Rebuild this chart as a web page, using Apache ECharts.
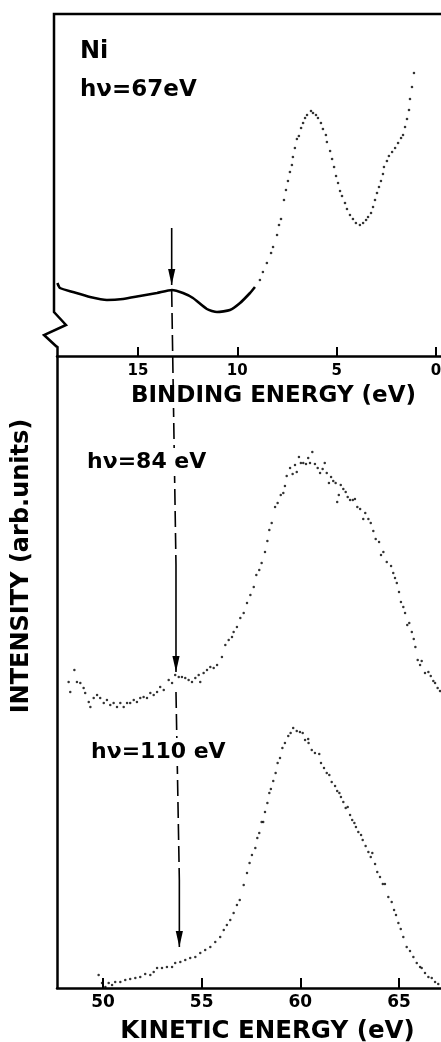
<!DOCTYPE html>
<html>
<head>
<meta charset="utf-8">
<script src="https://cdn.jsdelivr.net/npm/echarts@6/dist/echarts.min.js"></script>
<style>
  html, body { margin: 0; padding: 0; background: #fff; }
  #chart { width: 441px; height: 1042px; }
</style>
</head>
<body>
<div id="chart"></div>
<script>
// Ni photoemission spectra at three photon energies.
const BE_TICKS = [0, 5, 10, 15];          // binding energy (eV), top panel
const KE_TICKS = [50, 55, 60, 65];        // kinetic energy (eV), lower panel

// hv = 67 eV, [binding energy, intensity]; densely sampled low-intensity part
const dense67 = [
  [19.05, 73], [18.92, 68], [18.27, 64], [17.41, 59], [16.56, 56], [15.75, 57],
  [14.90, 60], [14.04, 63], [13.29, 66], [12.73, 63], [12.23, 58], [11.53, 47],
  [11.02, 44], [10.37, 46], [9.86, 53], [9.36, 63], [9.11, 69]
];
// hv = 67 eV, individual points of the valence band region
const dots67 = [
  [8.86, 76], [8.71, 84], [8.51, 93], [8.30, 103], [8.20, 109], [8.00, 121], [7.90, 131],
  [7.80, 137], [7.65, 156], [7.55, 166], [7.45, 175], [7.35, 184], [7.25, 191], [7.20, 199],
  [7.10, 208], [7.00, 217], [6.90, 220], [6.79, 228], [6.69, 233], [6.59, 238], [6.49, 241],
  [6.29, 245], [6.19, 243], [6.04, 241], [5.94, 238], [5.79, 233], [5.69, 227], [5.54, 221],
  [5.49, 214], [5.33, 205], [5.23, 197], [5.13, 189], [5.03, 180], [4.93, 173], [4.83, 165],
  [4.73, 160], [4.58, 153], [4.48, 147], [4.33, 141], [4.18, 137], [4.03, 133], [3.83, 131],
  [3.67, 133], [3.52, 136], [3.42, 139], [3.27, 143], [3.17, 149], [3.07, 156], [2.97, 163],
  [2.87, 169], [2.77, 175], [2.67, 182], [2.62, 189], [2.47, 195], [2.37, 200], [2.21, 204],
  [2.06, 208], [1.91, 213], [1.76, 218], [1.66, 221], [1.56, 229], [1.46, 237], [1.36, 246],
  [1.31, 257], [1.21, 269], [1.11, 283]
];
// hv = 84 eV, [kinetic energy, intensity]
const dots84 = [
  [48.26, 306], [48.34, 296], [48.55, 318], [48.68, 306], [48.85, 305], [49.02, 300],
  [49.10, 295], [49.28, 286], [49.36, 281], [49.53, 290], [49.70, 293], [49.86, 290],
  [50.04, 285], [50.20, 288], [50.37, 283], [50.54, 285], [50.71, 281], [50.88, 285],
  [51.05, 281], [51.22, 285], [51.38, 285], [51.56, 288], [51.72, 286], [51.89, 290],
  [52.06, 291], [52.23, 290], [52.40, 295], [52.57, 293], [52.74, 296], [52.90, 301],
  [53.08, 298], [53.33, 308], [53.50, 305], [53.66, 313], [53.84, 311], [54.00, 311],
  [54.17, 310], [54.34, 308], [54.51, 306], [54.68, 310], [54.85, 313], [54.93, 306],
  [55.10, 315], [55.27, 318], [55.44, 321], [55.61, 320], [55.78, 323], [56.03, 331],
  [56.20, 343], [56.37, 348], [56.54, 351], [56.62, 356], [56.79, 361], [56.96, 370],
  [57.13, 375], [57.30, 385], [57.47, 393], [57.64, 401], [57.77, 413], [57.92, 418],
  [58.04, 425], [58.21, 436], [58.33, 447], [58.43, 458], [58.55, 465], [58.72, 481],
  [58.85, 485], [59.01, 493], [59.14, 495], [59.22, 502], [59.31, 512], [59.48, 520],
  [59.61, 514], [59.73, 523], [59.82, 516], [59.93, 531], [60.03, 525], [60.15, 525],
  [60.29, 524], [60.40, 530], [60.49, 525], [60.61, 536], [60.74, 524], [60.88, 520],
  [61.00, 515], [61.13, 519], [61.24, 525], [61.34, 515], [61.45, 505], [61.56, 511],
  [61.67, 507], [61.79, 505], [61.87, 486], [61.95, 493], [62.05, 503], [62.18, 499],
  [62.30, 496], [62.40, 491], [62.52, 488], [62.66, 488], [62.77, 489], [62.89, 481],
  [63.03, 479], [63.19, 469], [63.29, 475], [63.45, 469], [63.57, 465], [63.70, 457],
  [63.82, 449], [63.99, 446], [64.09, 433], [64.21, 436], [64.38, 426], [64.60, 422],
  [64.71, 415], [64.80, 410], [64.89, 405], [65.00, 396], [65.10, 386], [65.22, 381],
  [65.31, 375], [65.42, 363], [65.52, 365], [65.65, 356], [65.75, 349], [65.83, 341],
  [65.95, 328], [66.07, 323], [66.15, 327], [66.32, 315], [66.49, 316], [66.61, 312],
  [66.74, 307], [66.83, 305], [66.96, 300], [67.08, 297]
];
// hv = 110 eV, [kinetic energy, intensity]
const dots110 = [
  [49.78, 13], [49.95, 5], [50.12, 1], [50.29, 5], [50.46, 3], [50.62, 6], [50.88, 6],
  [51.13, 8], [51.38, 9], [51.64, 10], [51.89, 11], [52.14, 14], [52.40, 13], [52.57, 16],
  [52.74, 20], [52.99, 20], [53.24, 21], [53.50, 21], [53.66, 25], [53.92, 26], [54.17, 28],
  [54.42, 30], [54.68, 31], [54.93, 35], [55.18, 38], [55.44, 41], [55.69, 46], [55.94, 51],
  [56.12, 58], [56.28, 63], [56.45, 68], [56.62, 75], [56.79, 83], [56.93, 88], [57.13, 103],
  [57.30, 115], [57.43, 125], [57.55, 133], [57.72, 140], [57.82, 150], [57.92, 155],
  [58.04, 166], [58.12, 166], [58.21, 176], [58.33, 185], [58.43, 195], [58.51, 199],
  [58.63, 207], [58.75, 215], [58.85, 225], [58.97, 230], [59.09, 240], [59.22, 245],
  [59.39, 252], [59.51, 255], [59.64, 260], [59.82, 257], [59.98, 256], [60.12, 255],
  [60.24, 248], [60.40, 249], [60.42, 245], [60.58, 238], [60.74, 235], [60.96, 234],
  [61.05, 225], [61.20, 220], [61.34, 215], [61.47, 213], [61.59, 206], [61.76, 202],
  [61.87, 197], [61.98, 195], [62.06, 191], [62.18, 186], [62.30, 180], [62.40, 181],
  [62.52, 173], [62.63, 168], [62.74, 165], [62.82, 161], [62.94, 156], [63.08, 153],
  [63.16, 148], [63.31, 142], [63.45, 136], [63.57, 131], [63.65, 135], [63.79, 124],
  [63.90, 116], [64.04, 111], [64.18, 104], [64.29, 104], [64.46, 91], [64.63, 86],
  [64.75, 78], [64.85, 73], [64.97, 65], [65.09, 59], [65.22, 51], [65.39, 41], [65.56, 37],
  [65.73, 31], [65.90, 25], [66.07, 21], [66.15, 20], [66.32, 15], [66.49, 11], [66.66, 10],
  [66.83, 6], [66.99, 4]
];

// Energies marked by the arrows
const ARROW_BE_67 = 13.3;
const ARROW_KE_84 = 53.70;
const ARROW_KE_110 = 53.87;

const FONT = '"DejaVu Sans", "Liberation Sans", sans-serif';
const INK = '#000';

const chart = echarts.init(document.getElementById('chart'), null, { renderer: 'canvas' });

function axisText(size) {
  return { color: INK, fontSize: size, fontWeight: 'bold', fontFamily: FONT };
}

const option = {
  backgroundColor: '#fff',
  animation: false,
  grid: [
    { left: 57, right: 0, top: 14, bottom: 686, containLabel: false, outerBoundsMode: 'none' },
    { left: 57, right: 0, top: 347, bottom: 54, containLabel: false, outerBoundsMode: 'none' }
  ],
  xAxis: [
    {
      type: 'value', gridIndex: 0, min: -0.25, max: 19.07, inverse: true, z: 5,
      axisLine: { show: true, onZero: false, lineStyle: { color: INK, width: 2.5 } },
      axisTick: { show: true, inside: true, length: 9, customValues: BE_TICKS,
                  lineStyle: { color: INK, width: 2 } },
      axisLabel: Object.assign({ customValues: BE_TICKS, margin: 8 }, axisText(15)),
      splitLine: { show: false },
      name: 'BINDING ENERGY (eV)', nameLocation: 'middle', nameGap: 29,
      nameTextStyle: Object.assign({ padding: [0, 0, 0, 49], backgroundColor: '#fff' }, axisText(23))
    },
    {
      type: 'value', gridIndex: 1, min: 47.67, max: 67.13, z: 5,
      axisLine: { show: true, onZero: false, lineStyle: { color: INK, width: 2.5 } },
      axisTick: { show: true, inside: true, length: 10, customValues: KE_TICKS,
                  lineStyle: { color: INK, width: 2 } },
      axisLabel: Object.assign({ customValues: KE_TICKS, margin: 6 }, axisText(17)),
      splitLine: { show: false },
      name: 'KINETIC ENERGY (eV)', nameLocation: 'middle', nameGap: 31,
      nameTextStyle: Object.assign({ padding: [0, 0, 0, 37] }, axisText(24.5))
    }
  ],
  yAxis: [
    { type: 'value', gridIndex: 0, min: 0, max: 342, show: false },
    {
      type: 'value', gridIndex: 1, min: 0, max: 641,
      axisLine: { show: true, onZero: false, lineStyle: { color: INK, width: 2.5 } },
      axisTick: { show: false }, axisLabel: { show: false }, splitLine: { show: false }
    }
  ],
  series: [
    {
      name: 'hv67 dense', type: 'line', xAxisIndex: 0, yAxisIndex: 0, data: dense67,
      smooth: 0.2, showSymbol: false, lineStyle: { color: INK, width: 2.6 }, z: 3
    },
    {
      name: 'hv67', type: 'scatter', xAxisIndex: 0, yAxisIndex: 0, data: dots67,
      symbolSize: 2.6, itemStyle: { color: INK }, z: 3
    },
    {
      name: 'hv84', type: 'scatter', xAxisIndex: 1, yAxisIndex: 1, data: dots84,
      symbolSize: 2.5, itemStyle: { color: INK }, z: 3
    },
    {
      name: 'hv110', type: 'scatter', xAxisIndex: 1, yAxisIndex: 1, data: dots110,
      symbolSize: 2.5, itemStyle: { color: INK }, z: 3
    }
  ]
};
chart.setOption(option);

// Arrows and the dashed guide line, placed through the axes' own scales
function toPx(gridIndex, x, y) {
  return chart.convertToPixel({ gridIndex: gridIndex }, [x, y]);
}
function seg(a, b, dashed) {
  return {
    type: 'line', z: 1, silent: true,
    shape: { x1: a[0], y1: a[1], x2: b[0], y2: b[1] },
    style: { stroke: INK, lineWidth: 1.6, lineDash: dashed ? [16, 6] : null }
  };
}
function head(tip) {
  return {
    type: 'polygon', z: 1, silent: true,
    shape: { points: [[tip[0], tip[1]], [tip[0] - 3.6, tip[1] - 16], [tip[0] + 3.6, tip[1] - 16]] },
    style: { fill: INK }
  };
}
function label(text, x, y, size) {
  return {
    type: 'text', z: 10, silent: true, x: x, y: y,
    style: {
      text: text, fill: INK, font: 'bold ' + size + 'px ' + FONT,
      textVerticalAlign: 'middle', backgroundColor: '#fff', padding: [3, 2]
    }
  };
}

const a67Top = toPx(0, ARROW_BE_67, 128), a67Tip = toPx(0, ARROW_BE_67, 71);
const guideTop = toPx(0, ARROW_BE_67, 65);
const a84Start = toPx(1, ARROW_KE_84, 423), a84Tip = toPx(1, ARROW_KE_84, 316);
const g110Top = toPx(1, ARROW_KE_84, 296);
const a110Start = toPx(1, ARROW_KE_110, 108), a110Tip = toPx(1, ARROW_KE_110, 41);

chart.setOption({
  graphic: [
    // frame: top edge, left edge with axis break
    {
      type: 'polyline', z: 1, silent: true,
      shape: { points: [[441, 14], [54, 14], [54, 312], [66, 325], [44, 335], [57, 347]] },
      style: { stroke: INK, lineWidth: 2.5, fill: null }
    },
    seg(a67Top, a67Tip, false), head(a67Tip),
    seg(guideTop, a84Start, true),
    seg(a84Start, a84Tip, false), head(a84Tip),
    seg(g110Top, a110Start, true),
    seg(a110Start, a110Tip, false), head(a110Tip),
    label('Ni', 78, 52, 24),
    label('hν=67eV', 78, 90, 23),
    label('hν=84 eV', 85, 462, 22),
    label('hν=110 eV', 89, 752, 22),
    {
      type: 'text', z: 10, silent: true, x: 22, y: 566, rotation: Math.PI / 2,
      style: {
        text: 'INTENSITY (arb.units)', fill: INK, font: 'bold 24px ' + FONT,
        textAlign: 'center', textVerticalAlign: 'middle'
      }
    }
  ]
});
</script>
</body>
</html>
